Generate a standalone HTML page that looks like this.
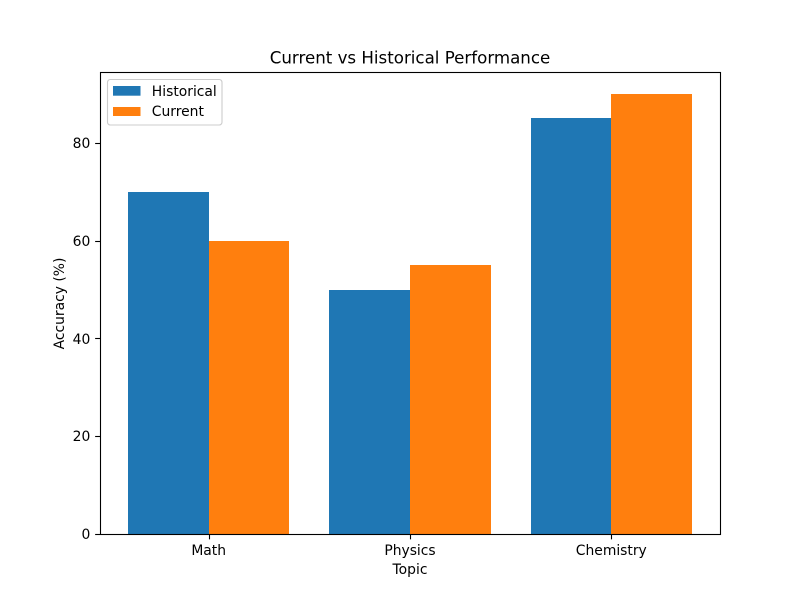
<!DOCTYPE html>
<html>
<head>
<meta charset="utf-8">
<title>Current vs Historical Performance</title>
<style>
html,body{margin:0;padding:0;background:#fff;}
svg{display:block;}
text{font-family:"DejaVu Sans",sans-serif;fill:#000;}
</style>
</head>
<body>
<svg id="chart" xmlns="http://www.w3.org/2000/svg" width="800" height="600" viewBox="0 0 800 600"></svg>
<script>
const categories = ['Math', 'Physics', 'Chemistry'];
const historicalValues = [70, 50, 85];
const currentValues = [60, 55, 90];
const yTickValues = [0, 20, 40, 60, 80];
const seriesNames = ['Historical', 'Current'];

const svg = document.getElementById('chart');
const NS = 'http://www.w3.org/2000/svg';
const plot = {left: 100, right: 720, top: 72, bottom: 534};
const colors = ['#1f77b4', '#ff7f0e'];
const barWidth = 0.4;

function make(tag, attrs, parent) {
  const el = document.createElementNS(NS, tag);
  for (const k in attrs) el.setAttribute(k, attrs[k]);
  (parent || svg).appendChild(el);
  return el;
}

const allValues = historicalValues.concat(currentValues);
const yMax = Math.max.apply(null, allValues) * 1.05;
const xLow = -barWidth, xHigh = categories.length - 1 + barWidth;
const xPad = (xHigh - xLow) * 0.05;
function xScale(v) {
  return plot.left + (v - (xLow - xPad)) / ((xHigh + xPad) - (xLow - xPad)) * (plot.right - plot.left);
}
function yScale(v) {
  return plot.bottom - (v / yMax) * (plot.bottom - plot.top);
}

const bg = make('rect', {x: 0, y: 0, width: 800, height: 600, fill: '#fff'});



[historicalValues, currentValues].forEach(function (values, s) {
  values.forEach(function (v, i) {
    const x0 = Math.round(xScale(i + (s === 0 ? -barWidth : 0)));
    const x1 = Math.round(xScale(i + (s === 0 ? 0 : barWidth)));
    const yTop = Math.round(yScale(v));
    const bar = make('rect', {x: x0, y: yTop, width: x1 - x0, height: Math.round(yScale(0)) - yTop, fill: colors[s]});
    
    
  });
});

const frame = make('rect', {x: plot.left + 0.5, y: plot.top + 0.5, width: plot.right - plot.left, height: plot.bottom - plot.top, fill: 'none', stroke: '#000', 'stroke-width': 1.1});



yTickValues.forEach(function (v) {
  const y = Math.round(yScale(v)) + 0.5;
  const tick = make('line', {x1: plot.left - 4.86, x2: plot.left, y1: y, y2: y, stroke: '#000', 'stroke-width': 1.1});
  
  
  const label = make('text', {x: plot.left - 9.7, y: Math.round(yScale(v) + 5.2), 'text-anchor': 'end', 'font-size': 13.89});
  label.textContent = v;
  
  
});

categories.forEach(function (c, i) {
  const x = Math.round(xScale(i)) + 0.5;
  const tick = make('line', {x1: x, x2: x, y1: plot.bottom + 0.5, y2: plot.bottom + 5.36, stroke: '#000', 'stroke-width': 1.1});
  
  
  const label = make('text', {x: xScale(i), y: plot.bottom + 21, 'text-anchor': 'middle', 'font-size': 13.89});
  label.textContent = c;
  
  
});

const title = make('text', {x: 410, y: 63.5, 'text-anchor': 'middle', 'font-size': 16.67});
title.textContent = 'Current vs Historical Performance';



const xTitle = make('text', {x: 410, y: 574, 'text-anchor': 'middle', 'font-size': 13.89});
xTitle.textContent = 'Topic';



const yTitle = make('text', {x: 0, y: 0, 'text-anchor': 'middle', 'font-size': 13.89, transform: 'translate(64 303.5) rotate(-90)'});
yTitle.textContent = 'Accuracy (%)';



const legendBox = make('rect', {x: 107.5, y: 79.5, width: 114.5, height: 45.5, rx: 2.8, ry: 2.8, fill: '#fff', 'fill-opacity': 0.8, stroke: '#ccc', 'stroke-width': 1.1});



seriesNames.forEach(function (name, s) {
  const top = 86 + s * 21;
  const swatch = make('rect', {x: 113, y: top, width: 27.5, height: s === 0 ? 9.7 : 9, fill: colors[s]});
  
  
  const label = make('text', {x: 151.8, y: 96 + s * 20, 'font-size': 13.89});
  label.textContent = name;
  
  
});
</script>
</body>
</html>
